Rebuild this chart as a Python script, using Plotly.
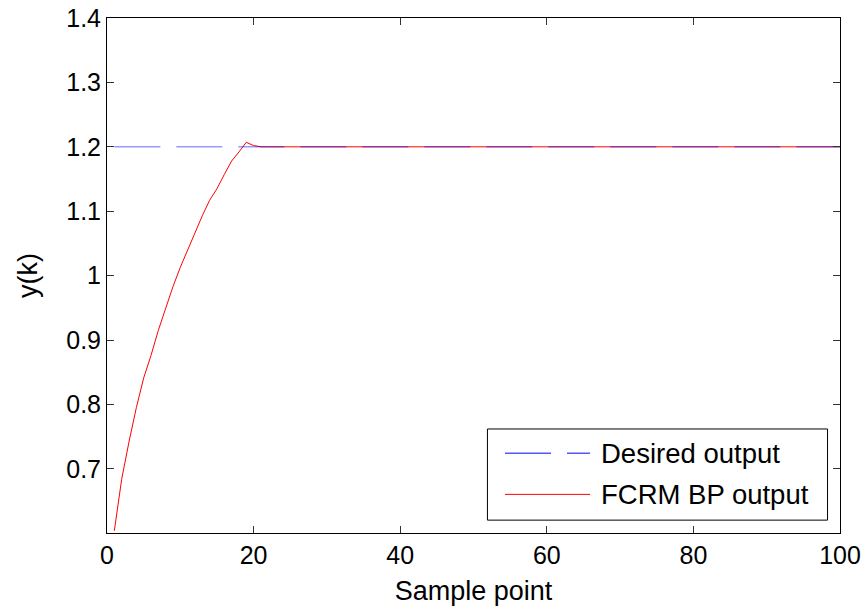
import plotly.graph_objects as go

# ---- data ----
sample_points = list(range(1, 101))
fcrm_bp_early = [0.604, 0.684, 0.742, 0.795, 0.841, 0.876, 0.915, 0.950, 0.983, 1.013,
                 1.040, 1.068, 1.093, 1.117, 1.135, 1.157, 1.178, 1.192, 1.207, 1.202]
steady_value = 1.2
fcrm_bp_output = fcrm_bp_early + [steady_value] * (len(sample_points) - len(fcrm_bp_early))
desired_output = [steady_value] * len(sample_points)

x_ticks = [0, 20, 40, 60, 80, 100]
y_ticks = [0.7, 0.8, 0.9, 1.0, 1.1, 1.2, 1.3, 1.4]
y_tick_text = ["0.7", "0.8", "0.9", "1", "1.1", "1.2", "1.3", "1.4"]
legend_labels = ["Desired output", "FCRM BP output"]

FONT = "Liberation Sans, Arial, sans-serif"

fig = go.Figure()
fig.add_trace(go.Scatter(x=sample_points, y=fcrm_bp_output, mode="lines",
                         line=dict(color="#ff0000", width=1), showlegend=False))
fig.add_trace(go.Scatter(x=sample_points, y=desired_output, mode="lines",
                         line=dict(color="#0000ff", width=1, dash="46px,16px"),
                         opacity=0.6, showlegend=False))

axis_common = dict(showline=True, linecolor="black", linewidth=1, mirror="ticks",
                   ticks="inside", ticklen=7, tickcolor="#333333", tickwidth=1,
                   showgrid=False, zeroline=False, automargin=False,
                   tickfont=dict(family=FONT, size=25, color="black"))

fig.update_xaxes(range=[0, 100], tickvals=x_ticks,
                 title=dict(text="Sample point", font=dict(family=FONT, size=27, color="black"),
                            standoff=13),
                 **axis_common)
fig.update_yaxes(range=[0.6005, 1.4], tickvals=y_ticks, ticktext=y_tick_text,
                 title=dict(text="y(k)", font=dict(family=FONT, size=27, color="black"),
                            standoff=20),
                 **axis_common)

# ---- manual legend (MATLAB-style) ----
lx0, lx1, ly0, ly1 = 0.519, 0.983, 0.025, 0.202
fig.add_shape(type="rect", xref="paper", yref="paper", x0=lx0, x1=lx1, y0=ly0, y1=ly1,
              line=dict(color="black", width=1), fillcolor="white", layer="above")
row_y = [0.155, 0.075]
line_x0, line_x1 = 0.543, 0.659
fig.add_shape(type="line", xref="paper", yref="paper", x0=line_x0, x1=line_x1,
              y0=row_y[0], y1=row_y[0], line=dict(color="#0000ff", width=1, dash="46px,16px"),
              layer="above")
fig.add_shape(type="line", xref="paper", yref="paper", x0=line_x0, x1=line_x1,
              y0=row_y[1], y1=row_y[1], line=dict(color="#ff0000", width=1), layer="above")
for lbl, ry in zip(legend_labels, row_y):
    fig.add_annotation(xref="paper", yref="paper", x=0.671, y=ry, text=lbl,
                       showarrow=False, xanchor="left", yanchor="middle",
                       font=dict(family=FONT, size=27.5, color="black"))

fig.update_layout(width=867, height=613, plot_bgcolor="white", paper_bgcolor="white",
                  margin=dict(l=107, r=27, t=18, b=80), showlegend=False)

fig.write_html("out.html", config={"displayModeBar": False},
               post_script="document.body.style.margin='0px';document.body.style.overflow='hidden';")
